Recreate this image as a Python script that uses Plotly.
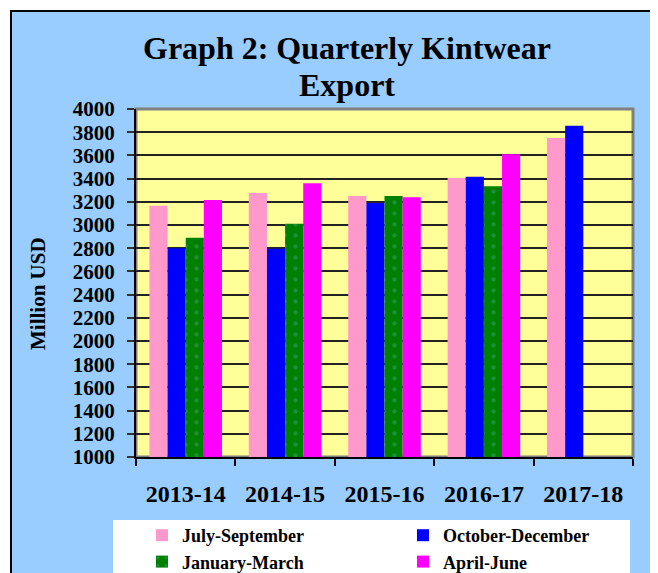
import plotly.graph_objects as go

years = ["2013-14", "2014-15", "2015-16", "2016-17", "2017-18"]
jul_sep = [3165, 3275, 3250, 3405, 3750]
oct_dec = [2800, 2795, 3190, 3415, 3855]
jan_mar = [2890, 3010, 3250, 3335, None]
apr_jun = [3215, 3360, 3240, 3610, None]
y_ticks = list(range(1000, 4001, 200))

# page offset of the figure div (default body margin)
OFF = 8
W, H = 658, 573
PL, PT, PW, PH = 136, 109, 497, 348          # plot area in page pixels
L, T = PL - OFF, PT - OFF
R, B = W - L - PW, H - T - PH

def px(x):
    return (x - PL) / PW

def py(y):
    return (PT + PH - y) / PH

serif = "Liberation Serif"

fig = go.Figure()
fig.add_bar(name="July-September", x=years, y=jul_sep, marker_color="#FF99CC",
            marker_line_width=0, legend="legend")
fig.add_bar(name="October-December", x=years, y=oct_dec, marker_color="#0000FF",
            marker_line_width=0, legend="legend2")
fig.add_bar(name="January-March", x=years, y=jan_mar, marker_color="#008000",
            marker_line_width=0, legend="legend",
            marker_pattern=dict(shape=".", fgcolor="#3C9C78", size=11, solidity=0.12))
fig.add_bar(name="April-June", x=years, y=apr_jun, marker_color="#FF00FF",
            marker_line_width=0, legend="legend2")

shapes = [
    # outer chart frame
    dict(type="rect", xref="paper", yref="paper", x0=px(11), x1=px(720), y0=py(640), y1=py(11),
         fillcolor="#99CCFF", line=dict(color="black", width=2), layer="below"),
    # plot area
    dict(type="rect", xref="paper", yref="paper", x0=0, x1=1, y0=0, y1=1,
         fillcolor="#FFFF99", line=dict(color="#808080", width=3), layer="below"),
    # legend box
    dict(type="rect", xref="paper", yref="paper", x0=px(113), x1=px(630), y0=py(640), y1=py(520),
         fillcolor="white", line=dict(width=0), layer="below"),
]

title_font = dict(family=serif, size=32, color="black", weight="bold")
annotations = [
    dict(text="Graph 2: Quarterly Kintwear", xref="paper", yref="paper",
         x=px(347), y=py(48), xanchor="center", yanchor="middle", showarrow=False,
         font=title_font),
    dict(text="Export", xref="paper", yref="paper",
         x=px(347), y=py(85), xanchor="center", yanchor="middle", showarrow=False,
         font=title_font),
    dict(text="Million USD", xref="paper", yref="paper", x=px(38), y=py(294),
         xanchor="center", yanchor="middle", textangle=-90, showarrow=False,
         font=dict(family=serif, size=21, color="black", weight="bold")),
]

legend_font = dict(family=serif, size=18, color="black", weight="bold")

fig.update_layout(
    width=W, height=H,
    margin=dict(l=L, r=R, t=T, b=B, pad=0, autoexpand=False),
    paper_bgcolor="white",
    plot_bgcolor="rgba(0,0,0,0)",
    barmode="group", bargap=0.27, bargroupgap=0,
    shapes=shapes, annotations=annotations,
    showlegend=True,
    legend=dict(x=px(142), y=py(517), xanchor="left", yanchor="top", orientation="v",
                bgcolor="rgba(0,0,0,0)", font=legend_font, tracegroupgap=0),
    legend2=dict(x=px(403), y=py(517), xanchor="left", yanchor="top", orientation="v",
                 bgcolor="rgba(0,0,0,0)", font=legend_font, tracegroupgap=0),
    xaxis=dict(
        type="category", showgrid=False, showline=True, linecolor="black", linewidth=2,
        ticks="outside", tickson="boundaries", ticklen=7, tickcolor="black", tickwidth=1.5,
        tickfont=dict(family=serif, size=24, color="black", weight="bold"),
        ticklabelstandoff=14, fixedrange=True,
    ),
    yaxis=dict(
        range=[1000, 4000], tickvals=y_ticks, ticktext=[str(v) for v in y_ticks],
        showgrid=True, gridcolor="#222222", gridwidth=1.5,
        showline=True, linecolor="black", linewidth=2,
        ticks="outside", ticklen=7, tickcolor="#333333", tickwidth=1.5,
        tickfont=dict(family=serif, size=21, color="black", weight="bold"),
        ticklabelstandoff=8, zeroline=False, fixedrange=True,
    ),
)

fig.write_html("out.html")
